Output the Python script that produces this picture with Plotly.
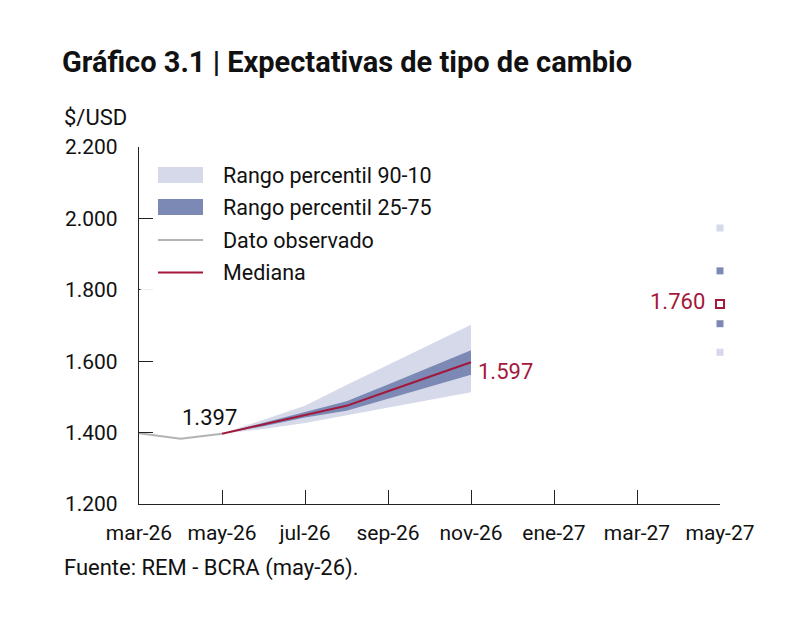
import plotly.graph_objects as go

# ---------------- data ----------------
months = ['mar-26', 'abr-26', 'may-26', 'jun-26', 'jul-26', 'ago-26', 'sep-26',
          'oct-26', 'nov-26', 'dic-26', 'ene-27', 'feb-27', 'mar-27', 'abr-27', 'may-27']

obs_months = ['mar-26', 'abr-26', 'may-26']
obs_values = [1398, 1383, 1397]

fc_months = ['may-26', 'jun-26', 'jul-26', 'ago-26', 'sep-26', 'oct-26', 'nov-26']
p10 = [1397, 1410, 1427, 1448, 1470, 1491, 1513]
p25 = [1397, 1418, 1442, 1461, 1495, 1529, 1562]
median = [1397, 1423, 1449, 1475, 1516, 1557, 1597]
p75 = [1397, 1428, 1458, 1488, 1535, 1583, 1631]
p90 = [1397, 1436, 1475, 1533, 1590, 1646, 1702]

end_month = 'may-27'
end_p10, end_p25, end_median, end_p75, end_p90 = 1625, 1705, 1760, 1853, 1973

y_ticks = [1200, 1400, 1600, 1800, 2000, 2200]
legend_labels = ['Rango percentil 90-10', 'Rango percentil 25-75', 'Dato observado', 'Mediana']

# ---------------- styles ----------------
LIGHT = '#d5d9ea'
DARK = '#7b89b4'
CRIMSON = '#a3193c'
GRAY = '#b3b3b3'
AXIS = '#222222'
FONT = 'Roboto'

idx = {m: i for i, m in enumerate(months)}
xo = [idx[m] for m in obs_months]
xf = [idx[m] for m in fc_months]
xe = idx[end_month]

fig = go.Figure()

fig.add_trace(go.Scatter(x=xf, y=p10, mode='lines', line=dict(width=0, color=LIGHT),
                         showlegend=False, hoverinfo='skip'))
fig.add_trace(go.Scatter(x=xf, y=p90, mode='lines', line=dict(width=0, color=LIGHT),
                         fill='tonexty', fillcolor=LIGHT, showlegend=False))
fig.add_trace(go.Scatter(x=xf, y=p25, mode='lines', line=dict(width=0, color=DARK),
                         showlegend=False, hoverinfo='skip'))
fig.add_trace(go.Scatter(x=xf, y=p75, mode='lines', line=dict(width=0, color=DARK),
                         fill='tonexty', fillcolor=DARK, showlegend=False))
fig.add_trace(go.Scatter(x=xo, y=obs_values, mode='lines', line=dict(width=2, color=GRAY),
                         showlegend=False))
fig.add_trace(go.Scatter(x=xf, y=median, mode='lines', line=dict(width=2, color=CRIMSON),
                         showlegend=False))

# end-of-horizon markers
fig.add_trace(go.Scatter(x=[xe, xe], y=[end_p10, end_p90], mode='markers', cliponaxis=False,
                         marker=dict(symbol='square', size=7, color=LIGHT), showlegend=False))
fig.add_trace(go.Scatter(x=[xe, xe], y=[end_p25, end_p75], mode='markers', cliponaxis=False,
                         marker=dict(symbol='square', size=7, color=DARK), showlegend=False))
fig.add_trace(go.Scatter(x=[xe], y=[end_median], mode='markers', cliponaxis=False,
                         marker=dict(symbol='square', size=8, color='white',
                                     line=dict(color=CRIMSON, width=2)), showlegend=False))

W, H = 806, 618
L, R, T, B = 139, 86, 147, 114
PW, PH = W - L - R, H - T - B


def px(x):
    return (x - L) / PW


def py(y):
    return (H - B - y) / PH


def fmt(v):
    return f'{v:,}'.replace(',', '.')


annotations = []
# data labels
annotations.append(dict(x=idx['may-26'], y=median[0], xref='x', yref='y', text=fmt(median[0]),
                        showarrow=False, xanchor='right', yanchor='bottom', xshift=17, yshift=2,
                        font=dict(family=FONT, size=22, color='#111111')))
annotations.append(dict(x=xf[-1], y=median[-1], xref='x', yref='y', text=fmt(median[-1]),
                        showarrow=False, xanchor='left', yanchor='middle', xshift=5, yshift=-9,
                        font=dict(family=FONT, size=22, color=CRIMSON)))
annotations.append(dict(x=xe, y=end_median, xref='x', yref='y', text=fmt(end_median),
                        showarrow=False, xanchor='right', yanchor='middle', xshift=-13, yshift=3,
                        font=dict(family=FONT, size=22, color=CRIMSON)))

# titles / notes
annotations.append(dict(x=px(62), y=py(117), xref='paper', yref='paper', text='$/USD',
                        showarrow=False, xanchor='left', yanchor='middle',
                        font=dict(family=FONT, size=22, color='#111111')))
annotations.append(dict(x=px(62), y=py(568), xref='paper', yref='paper',
                        text='Fuente: REM - BCRA (may-26).',
                        showarrow=False, xanchor='left', yanchor='middle',
                        font=dict(family=FONT, size=22, color='#111111')))

# manual legend
shapes = []
leg_rows = [175, 207.5, 240, 272]
shapes.append(dict(type='rect', xref='paper', yref='paper', x0=px(158), x1=px(203),
                   y0=py(183), y1=py(167), fillcolor=LIGHT, line=dict(width=0)))
shapes.append(dict(type='rect', xref='paper', yref='paper', x0=px(158), x1=px(203),
                   y0=py(215), y1=py(199), fillcolor=DARK, line=dict(width=0)))
shapes.append(dict(type='line', xref='paper', yref='paper', x0=px(158), x1=px(203),
                   y0=py(240), y1=py(240), line=dict(color=GRAY, width=2)))
shapes.append(dict(type='line', xref='paper', yref='paper', x0=px(158), x1=px(203),
                   y0=py(272.5), y1=py(272.5), line=dict(color=CRIMSON, width=2)))
for lab, yy in zip(legend_labels, leg_rows):
    annotations.append(dict(x=px(221), y=py(yy), xref='paper', yref='paper', text=lab,
                            showarrow=False, xanchor='left', yanchor='middle',
                            font=dict(family=FONT, size=21.5, color='#111111')))

# faded ticks under legend box
for yy in (147, 290):
    shapes.append(dict(type='rect', xref='paper', yref='paper', x0=px(140.5), x1=px(160),
                       y0=py(yy + 3), y1=py(yy - 3), fillcolor='white', opacity=0.92,
                       line=dict(width=0), layer='above'))

fig.update_layout(
    width=W, height=H,
    margin=dict(l=L, r=R, t=T, b=B),
    paper_bgcolor='white', plot_bgcolor='white',
    separators=',.',
    font=dict(family=FONT, size=21, color='#111111'),
    title=dict(text='<b>Gráfico 3.1 | Expectativas de tipo de cambio</b>',
               x=62 / W, y=1 - 62 / H, xanchor='left', yanchor='middle',
               font=dict(family=FONT, size=29, color='#111111')),
    xaxis=dict(range=[0, 14], tickvals=list(range(0, 15, 2)), ticktext=months[::2],
               showline=True, linecolor=AXIS, linewidth=1.3, ticks='inside', ticklen=14,
               tickcolor=AXIS, tickwidth=1.3, showgrid=False, zeroline=False,
               tickfont=dict(family=FONT, size=21, color='#111111'), ticklabelstandoff=10,
               fixedrange=True),
    yaxis=dict(range=[1200, 2200], tickvals=y_ticks, tickformat=',d',
               showline=True, linecolor=AXIS, linewidth=1.3, ticks='inside', ticklen=14,
               tickcolor=AXIS, tickwidth=1.3, showgrid=False, zeroline=False,
               tickfont=dict(family=FONT, size=21, color='#111111'), ticklabelstandoff=16,
               fixedrange=True),
    annotations=annotations,
    shapes=shapes,
    showlegend=False,
)

fig.write_html('out.html')
